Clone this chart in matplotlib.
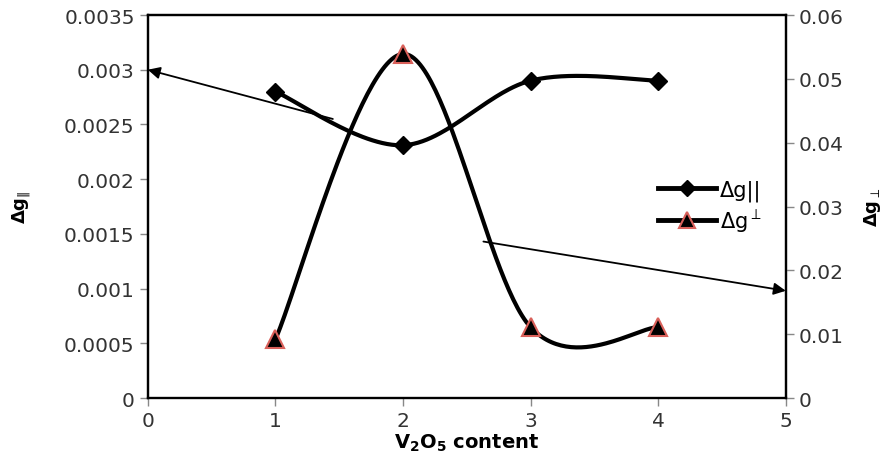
import matplotlib
matplotlib.use("Agg")
import matplotlib.pyplot as plt
import numpy as np

# V2O5 content and the two g-shift series
content = [1, 2, 3, 4]
dg_par = [0.0028, 0.00231, 0.0029, 0.0029]
dg_perp = [0.0092, 0.0539, 0.0111, 0.0111]

left_ticks = [0, 0.0005, 0.001, 0.0015, 0.002, 0.0025, 0.003, 0.0035]
left_labels = ['0', '0.0005', '0.001', '0.0015', '0.002', '0.0025', '0.003', '0.0035']
right_ticks = [0, 0.01, 0.02, 0.03, 0.04, 0.05, 0.06]
right_labels = ['0', '0.01', '0.02', '0.03', '0.04', '0.05', '0.06']
x_ticks = [0, 1, 2, 3, 4, 5]


def smooth(x, y, n=60):
    # Catmull-Rom style bezier, like a spreadsheet "smoothed line"
    p = np.column_stack([x, y]).astype(float)
    pts = []
    for i in range(len(p) - 1):
        p0 = p[i - 1] if i > 0 else p[i]
        p3 = p[i + 2] if i + 2 < len(p) else p[i + 1]
        b0 = p[i]
        b3 = p[i + 1]
        b1 = b0 + (p[i + 1] - p0) / 6
        b2 = b3 - (p3 - p[i]) / 6
        t = np.linspace(0, 1, n)[:, None]
        seg = ((1 - t) ** 3) * b0 + 3 * ((1 - t) ** 2) * t * b1 + 3 * (1 - t) * t ** 2 * b2 + t ** 3 * b3
        pts.append(seg)
    pts = np.vstack(pts)
    return pts[:, 0], pts[:, 1]


fig = plt.figure(figsize=(8.96, 4.64), dpi=100)
ax = fig.add_axes([0.165, 0.14, 0.712, 0.8255])
ax2 = ax.twinx()

sx, sy = smooth(content, dg_par)
ax.plot(sx, sy, color='black', lw=3.0, zorder=3)
ax.plot(content, dg_par, ls='none', marker='D', ms=9, color='black', zorder=4)

tx, ty = smooth(content, dg_perp)
ax2.plot(tx, ty, color='black', lw=3.0, zorder=3)
ax2.plot(content, dg_perp, ls='none', marker='^', ms=13, mfc='black',
         mec='#d9605a', mew=1.5, zorder=4)

ax.set_xlim(0, 5)
ax.set_ylim(0, 0.0035)
ax2.set_ylim(0, 0.06)
ax.set_xticks(x_ticks)
ax.set_yticks(left_ticks)
ax.set_yticklabels(left_labels)
ax2.set_yticks(right_ticks)
ax2.set_yticklabels(right_labels)

for a in (ax, ax2):
    a.tick_params(labelsize=14.5, colors='#333333', width=1, length=6)
    a.tick_params(axis='both', color='#888888')
    for s in a.spines.values():
        s.set_color('black')
        s.set_linewidth(1.6)
ax.spines['bottom'].set_color('#555555')

ax.set_xlabel(r'V$_\mathbf{2}$O$_\mathbf{5}$ content', fontsize=14, fontweight='bold', labelpad=1)
ax.set_ylabel(r'$\mathbf{\Delta g}_{\|}$', fontsize=13, fontweight='bold', labelpad=22)
ax2.set_ylabel(r'$\mathbf{\Delta g}_{\perp}$', fontsize=13, fontweight='bold', rotation=90, labelpad=13)

# arrows pointing at the axis each series belongs to
arrow = dict(arrowstyle='-|>', color='black', lw=1.3, mutation_scale=18, shrinkA=0, shrinkB=0)
ax.annotate('', xy=(0.0, 0.003), xytext=(1.45, 0.00255),
            arrowprops=arrow, annotation_clip=False)
ax.annotate('', xy=(5.0, 0.00098), xytext=(2.63, 0.00143),
            arrowprops=arrow, annotation_clip=False)

# legend
h1, = ax.plot([], [], color='black', lw=3.5, marker='D', ms=8)
h2, = ax.plot([], [], color='black', lw=3.5, marker='^', ms=11, mfc='black', mec='#d9605a', mew=1.5)
ax.legend([h1, h2], ['Δg||', r'$\mathrm{\Delta g}^{\perp}$'], loc='center left',
          bbox_to_anchor=(0.77, 0.5), frameon=False, fontsize=15,
          handlelength=2.8, handletextpad=0.2, labelspacing=0.3)

fig.savefig('out.png', dpi=100)
